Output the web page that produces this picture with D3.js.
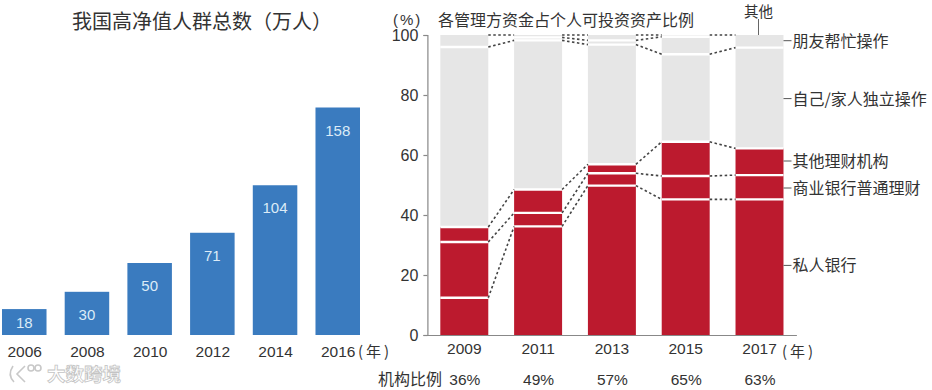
<!DOCTYPE html>
<html>
<head>
<meta charset="utf-8">
<script src="https://cdn.jsdelivr.net/npm/d3@7"></script>
<style>
  html, body { margin: 0; background: #fff; }
  svg { display: block; }
  text { font-family: "Liberation Sans", sans-serif; fill: #333; }
  .cjk { font-family: "Noto Sans CJK SC", sans-serif; }
</style>
</head>
<body>
<div id="container"></div>
<script>
/* DATA */
const leftYears = ["2006", "2008", "2010", "2012", "2014", "2016"]
const leftValues = [18, 30, 50, 71, 104, 158]

const rightYears = ["2009", "2011", "2013", "2015", "2017"]
const ratios = ["36%", "49%", "57%", "65%", "63%"]
// cumulative tops of each segment, bottom to top
const privateBank = [12.4, 36.2, 49.8, 45.2, 45.2]
const commercial = [31, 40.7, 53.9, 53, 53.3]
const otherInst = [36, 48.5, 56.9, 64.4, 62.2]
const selfOp = [96, 98.2, 96.8, 93.6, 95.8]
const friends = [100, 99.2, 98.2, 99.4, 100]
const others = [100, 100, 100, 100, 100]
const yTicks = [0, 20, 40, 60, 80, 100]

const seriesLabels = [
  {name: "私人银行", v: 23.2},
  {name: "商业银行普通理财", v: 49},
  {name: "其他理财机构", v: 58},
  {name: "自己/家人独立操作", v: 78.8},
  {name: "朋友帮忙操作", v: 98.1}
]

const svg = d3.select("#container").append("svg")
  .attr("width", 932)
  .attr("height", 390)

/* LEFT CHART */
const xLeft = d3.scaleBand()
  .domain(leftYears)
  .range([2, 360])
  .paddingInner(0.29)
  .paddingOuter(0)
const yLeft = d3.scaleLinear().domain([0, 158]).range([335, 107.5])

svg.selectAll("rect.blue")
  .data(leftYears)
  .join("rect")
  .attr("class", "blue")
  .attr("x", d => xLeft(d))
  .attr("width", xLeft.bandwidth())
  .attr("y", (d, i) => yLeft(leftValues[i]))
  .attr("height", (d, i) => 335 - yLeft(leftValues[i]))
  .attr("fill", "#3a7bbf")

svg.selectAll("text.blueval")
  .data(leftYears)
  .join("text")
  .attr("class", "blueval")
  .attr("x", d => xLeft(d) + xLeft.bandwidth() / 2)
  // short bars push the number down against the baseline
  .attr("y", (d, i) => Math.min(yLeft(leftValues[i]) + 28, 328))
  .attr("text-anchor", "middle")
  .attr("font-size", 15)
  .style("fill", "#dcebf7")
  .text((d, i) => leftValues[i])

svg.selectAll("text.leftyear")
  .data(leftYears)
  .join("text")
  .attr("class", "leftyear")
  .attr("x", d => xLeft(d) + xLeft.bandwidth() / 2 + 0.5)
  .attr("y", 357)
  .attr("text-anchor", "middle")
  .attr("font-size", 15.5)
  .text(d => d)

svg.append("text").attr("class", "cjk")
  .attr("x", 72).attr("y", 29)
  .attr("font-size", 20)
  .text("我国高净值人群总数（万人）")
svg.append("text").attr("class", "cjk")
  .attr("x", 358).attr("y", 357)
  .attr("font-size", 15)
  .attr("letter-spacing", 3)
  .text("(年)")

/* RIGHT CHART */
const xRight = d3.scaleBand()
  .domain(rightYears)
  .range([427.4, 796.4])
  .paddingInner(0.35)
  .paddingOuter(0.175)
const yRight = d3.scaleLinear().domain([0, 100]).range([335, 35])

const segments = [
  {tops: privateBank, fill: "#bc1a2e", bottoms: null},
  {tops: commercial, fill: "#bc1a2e", bottoms: privateBank},
  {tops: otherInst, fill: "#bc1a2e", bottoms: commercial},
  {tops: selfOp, fill: "#e6e6e6", bottoms: otherInst},
  {tops: friends, fill: "#e6e6e6", bottoms: selfOp},
  {tops: others, fill: "#e6e6e6", bottoms: friends}
]

segments.forEach(s => {
  svg.append("g").selectAll("rect")
    .data(rightYears)
    .join("rect")
    .attr("x", d => xRight(d))
    .attr("width", xRight.bandwidth())
    .attr("y", (d, i) => yRight(s.tops[i]))
    .attr("height", (d, i) => yRight(s.bottoms ? s.bottoms[i] : 0) - yRight(s.tops[i]))
    .attr("fill", s.fill)
})

// white separators
const boundaries = [privateBank, commercial, otherInst, selfOp, friends]
boundaries.forEach(b => {
  svg.append("g").selectAll("line")
    .data(rightYears.filter((d, i) => b[i] < 100))
    .join("line")
    .attr("x1", d => xRight(d))
    .attr("x2", d => xRight(d) + xRight.bandwidth())
    .attr("y1", d => yRight(b[rightYears.indexOf(d)]))
    .attr("y2", d => yRight(b[rightYears.indexOf(d)]))
    .attr("stroke", "#fff")
    .attr("stroke-width", 2.4)
})

// dotted connectors between bars, none where the top slice is missing
boundaries.concat([others]).forEach(b => {
  svg.append("g").selectAll("line")
    .data(rightYears.slice(0, -1).filter((d, i) => b === others || (b[i] < 100 && b[i + 1] < 100)))
    .join("line")
    .attr("x1", d => xRight(d) + xRight.bandwidth())
    .attr("x2", d => xRight(rightYears[rightYears.indexOf(d) + 1]))
    .attr("y1", d => yRight(b[rightYears.indexOf(d)]))
    .attr("y2", d => yRight(b[rightYears.indexOf(d) + 1]))
    .attr("stroke", "#444")
    .attr("stroke-width", 1.6)
    .attr("stroke-dasharray", "2.5,2.5")
})

// axes
const yAxis = d3.axisLeft(yRight).tickValues(yTicks).tickSize(4).tickPadding(5)
const gy = svg.append("g").attr("transform", "translate(427.4,0)").call(yAxis)
gy.selectAll("path, line").attr("stroke", "#888").attr("stroke-width", 1.2)
gy.selectAll("text").attr("font-size", 16).attr("font-family", "Liberation Sans").style("fill", "#333")

const xAxis = d3.axisBottom(xRight).tickSize(0).tickPadding(8)
const gx = svg.append("g").attr("transform", "translate(0,335)").call(xAxis)
gx.select("path").attr("stroke", "#888").attr("stroke-width", 1.2)
gx.selectAll("text").attr("font-size", 15.5).attr("font-family", "Liberation Sans").style("fill", "#333")

svg.append("text")
  .attr("x", 393).attr("y", 25)
  .attr("font-size", 15)
  .attr("letter-spacing", 2)
  .text("(%)")
svg.append("text").attr("class", "cjk")
  .attr("x", 438).attr("y", 26)
  .attr("font-size", 16)
  .text("各管理方资金占个人可投资资产比例")
svg.append("text").attr("class", "cjk")
  .attr("x", 782).attr("y", 357)
  .attr("font-size", 15)
  .attr("letter-spacing", 3)
  .text("(年)")

svg.append("text").attr("class", "cjk")
  .attr("x", 378).attr("y", 385)
  .attr("font-size", 16)
  .text("机构比例")
svg.selectAll("text.ratio")
  .data(rightYears)
  .join("text")
  .attr("class", "ratio")
  .attr("x", d => xRight(d) + xRight.bandwidth() / 2 + 0.5)
  .attr("y", 385)
  .attr("text-anchor", "middle")
  .attr("font-size", 15.5)
  .text((d, i) => ratios[i])

// series labels with leader lines
svg.selectAll("line.leader")
  .data(seriesLabels)
  .join("line")
  .attr("class", "leader")
  .attr("x1", 783.5).attr("x2", 791.5)
  .attr("y1", d => yRight(d.v)).attr("y2", d => yRight(d.v))
  .attr("stroke", "#555")
svg.selectAll("text.serieslabel")
  .data(seriesLabels)
  .join("text")
  .attr("class", "serieslabel cjk")
  .attr("x", 792.5)
  .attr("y", d => yRight(d.v) + 6)
  .attr("font-size", 16)
  .text(d => d.name)

svg.append("text").attr("class", "cjk")
  .attr("x", 744).attr("y", 17)
  .attr("font-size", 14.5)
  .text("其他")
svg.append("line")
  .attr("x1", 758.5).attr("x2", 758.5)
  .attr("y1", 19).attr("y2", 35)
  .attr("stroke", "#666")

/* WATERMARK */
const mark = svg.append("g")
  .attr("fill", "none")
  .attr("stroke", "#c8c8c8")
  .attr("stroke-width", 1.6)
mark.append("path").attr("d", "M13,366 Q7,375 14,382 M25,366 L17,374 L25,382")
mark.append("circle").attr("cx", 31).attr("cy", 368).attr("r", 3)
mark.append("circle").attr("cx", 38).attr("cy", 368).attr("r", 3)

svg.append("text").attr("class", "cjk")
  .attr("x", 47).attr("y", 381)
  .attr("font-size", 18.5)
  .attr("font-weight", 700)
  .style("fill", "#fff")
  .style("stroke", "#c4c4c4")
  .style("stroke-width", 0.8)
  .text("大数跨境")
</script>
</body>
</html>
